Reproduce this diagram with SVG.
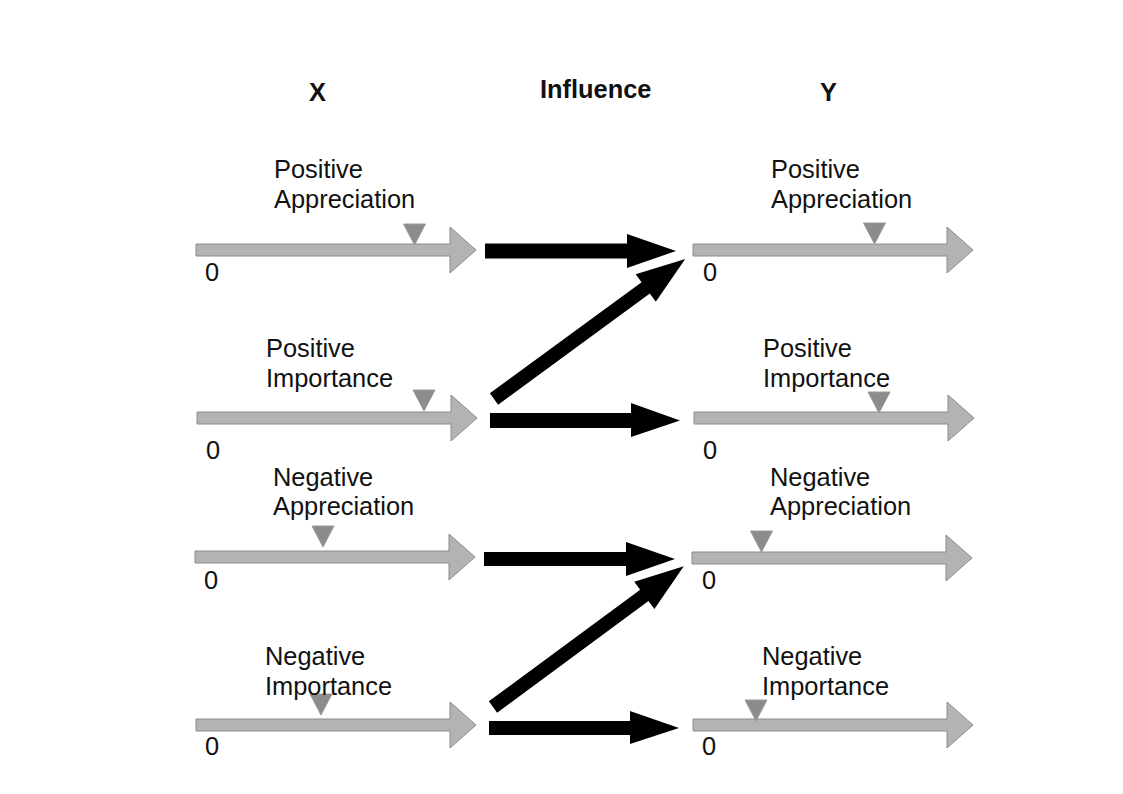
<svg xmlns="http://www.w3.org/2000/svg" width="1123" height="794" viewBox="0 0 1123 794">
<defs>
<style>
.lbl{font-family:"Liberation Sans",Arial,sans-serif;font-size:25.4px;fill:#111}
.ttl{font-family:"Liberation Sans",Arial,sans-serif;font-size:25.4px;font-weight:bold;fill:#111}
.axis{fill:#b3b3b3;stroke:#8c8c8c;stroke-width:1}
.mark{fill:#8c8c8c;stroke:#9a9a9a;stroke-width:1}
.inf{fill:#000}
</style>
<path id="gray" d="M0,-6 L254,-6 L254,-23 L280,0 L254,23 L254,6 L0,6 Z"/>
<path id="tri" d="M-11,0 L11,0 L0,21 Z"/>
</defs>
<rect width="1123" height="794" fill="#fff"/>
<g id="titles">
<text class="ttl" x="309" y="101">X</text>
<text class="ttl" x="540" y="98">Influence</text>
<text class="ttl" x="820" y="101">Y</text>
</g>
<g id="x-pos-app">
<use href="#gray" class="axis" x="196" y="250"/>
<use href="#tri" class="mark" x="414.5" y="224"/>
<text class="lbl" x="274" y="178">Positive</text>
<text class="lbl" x="274" y="208">Appreciation</text>
<text class="lbl" x="205" y="281">0</text>
</g>
<g id="x-pos-imp">
<use href="#gray" class="axis" x="197" y="418"/>
<use href="#tri" class="mark" x="424" y="390"/>
<text class="lbl" x="266" y="357">Positive</text>
<text class="lbl" x="266" y="387">Importance</text>
<text class="lbl" x="206" y="459">0</text>
</g>
<g id="x-neg-app">
<use href="#gray" class="axis" x="195" y="557"/>
<use href="#tri" class="mark" x="323" y="526"/>
<text class="lbl" x="273" y="486">Negative</text>
<text class="lbl" x="273" y="515">Appreciation</text>
<text class="lbl" x="204" y="589">0</text>
</g>
<g id="x-neg-imp">
<use href="#gray" class="axis" x="196" y="725"/>
<use href="#tri" class="mark" x="321" y="694"/>
<text class="lbl" x="265" y="665">Negative</text>
<text class="lbl" x="265" y="695">Importance</text>
<text class="lbl" x="205" y="755">0</text>
</g>
<g id="y-pos-app">
<use href="#gray" class="axis" x="693" y="250"/>
<use href="#tri" class="mark" x="874.5" y="223"/>
<text class="lbl" x="771" y="178">Positive</text>
<text class="lbl" x="771" y="208">Appreciation</text>
<text class="lbl" x="703" y="281">0</text>
</g>
<g id="y-pos-imp">
<use href="#gray" class="axis" x="694" y="418"/>
<use href="#tri" class="mark" x="879" y="392"/>
<text class="lbl" x="763" y="357">Positive</text>
<text class="lbl" x="763" y="387">Importance</text>
<text class="lbl" x="703" y="459">0</text>
</g>
<g id="y-neg-app">
<use href="#gray" class="axis" x="692" y="558"/>
<use href="#tri" class="mark" x="761.5" y="531"/>
<text class="lbl" x="770" y="486">Negative</text>
<text class="lbl" x="770" y="515">Appreciation</text>
<text class="lbl" x="702" y="589">0</text>
</g>
<g id="y-neg-imp">
<use href="#gray" class="axis" x="693" y="725"/>
<use href="#tri" class="mark" x="756" y="700"/>
<text class="lbl" x="762" y="665">Negative</text>
<text class="lbl" x="762" y="695">Importance</text>
<text class="lbl" x="702" y="755">0</text>
</g>
<g id="connectors" class="inf">
<path d="M485,243.5 L627,243.5 L627,234 L676,251 L627,268 L627,258.5 L485,258.5 Z"/>
<path d="M0,-7 L188,-7 L188,-17 L237,0 L188,17 L188,7 L0,7 Z" transform="translate(494,399) rotate(-36.2)"/>
<path d="M490,413 L631,413 L631,403 L680,420.5 L631,437 L631,428 L490,428 Z"/>
<path d="M484,552 L626,552 L626,542 L675,559 L626,576 L626,566 L484,566 Z"/>
<path d="M0,-7 L188,-7 L188,-17 L237,0 L188,17 L188,7 L0,7 Z" transform="translate(493,707) rotate(-36.4)"/>
<path d="M489,721 L630,721 L630,711 L679,728 L630,744 L630,735 L489,735 Z"/>
</g>
</svg>
